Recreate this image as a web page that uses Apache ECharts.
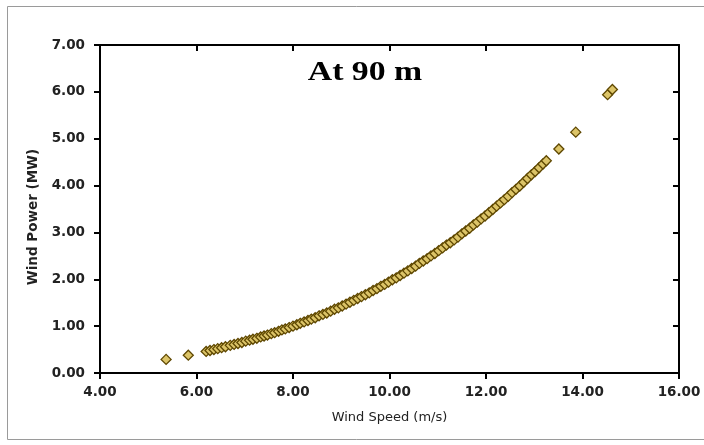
<!DOCTYPE html>
<html>
<head>
<meta charset="utf-8">
<script src="https://cdn.jsdelivr.net/npm/echarts@6/dist/echarts.min.js"></script>
<style>html,body{margin:0;padding:0;background:#fff}#c{width:704px;height:445px}</style>
</head>
<body>
<div id="c"></div>
<script>
const titleText = 'At 90 m';
const xAxisName = 'Wind Speed (m/s)';
const yAxisName = 'Wind Power (MW)';
const windSpeed = [5.37, 5.83,
  6.20, 6.28, 6.36, 6.44, 6.52, 6.60, 6.70, 6.78, 6.86, 6.94, 7.02, 7.10, 7.17, 7.25, 7.33, 7.40,
  7.47, 7.55, 7.62, 7.70, 7.77, 7.84, 7.92, 8.00, 8.08, 8.15, 8.23, 8.31, 8.38, 8.46, 8.54, 8.62,
  8.70, 8.78, 8.86, 8.94, 9.02, 9.10, 9.18, 9.26, 9.34, 9.42, 9.50, 9.58, 9.66, 9.74, 9.82, 9.90,
  9.98, 10.06, 10.14, 10.22, 10.30, 10.38, 10.46, 10.54, 10.62, 10.70, 10.78, 10.86, 10.94, 11.02,
  11.10, 11.18, 11.26, 11.34, 11.42, 11.50, 11.58, 11.66, 11.74, 11.82, 11.90, 11.98, 12.06, 12.14,
  12.22, 12.30, 12.38, 12.46, 12.54, 12.62, 12.70, 12.78, 12.86, 12.94, 13.02, 13.10, 13.18, 13.25,
  13.51, 13.86, 14.52, 14.62];
const windPower = [0.29, 0.38,
  0.46, 0.48, 0.50, 0.52, 0.54, 0.56, 0.59, 0.61, 0.63, 0.65, 0.68, 0.70, 0.72, 0.74, 0.77, 0.79,
  0.81, 0.84, 0.86, 0.89, 0.92, 0.94, 0.97, 1.00, 1.03, 1.06, 1.09, 1.12, 1.15, 1.18, 1.22, 1.25,
  1.28, 1.32, 1.36, 1.39, 1.43, 1.47, 1.51, 1.55, 1.59, 1.63, 1.67, 1.71, 1.76, 1.80, 1.85, 1.89,
  1.94, 1.99, 2.03, 2.08, 2.13, 2.18, 2.23, 2.28, 2.34, 2.39, 2.44, 2.50, 2.55, 2.61,
  2.67, 2.73, 2.78, 2.84, 2.90, 2.97, 3.03, 3.09, 3.16, 3.22, 3.29, 3.35, 3.42, 3.49,
  3.56, 3.63, 3.70, 3.77, 3.85, 3.92, 3.99, 4.07, 4.15, 4.23, 4.30, 4.38, 4.46, 4.53,
  4.78, 5.14, 5.94, 6.05];
const xTicks = {min: 4, max: 16, interval: 2};
const yTicks = {min: 0, max: 7, interval: 1};

const points = windSpeed.map((v, i) => [v, windPower[i]]);
const chart = echarts.init(document.getElementById('c'), null, {renderer: 'canvas'});
const lbl = {fontFamily: 'DejaVu Sans', fontWeight: 'bold', fontSize: 13.5, color: '#222'};
const axisLine = {show: true, onZero: false, lineStyle: {color: '#000', width: 2}};
chart.setOption({
  animation: false,
  backgroundColor: '#fff',
  graphic: [{
    type: 'rect', shape: {x: 7.5, y: 6.5, width: 700, height: 433},
    style: {fill: 'none', stroke: '#9a9a9a', lineWidth: 1}, silent: true, z: -1
  }, {
    type: 'text', x: 365, y: 73, scaleX: 1.25, silent: true, z: 10,
    style: {text: titleText, font: 'bold 27px "Liberation Serif"', fill: '#000',
            textAlign: 'center', textVerticalAlign: 'middle'}
  }],
  grid: {left: 100, right: 25, top: 45, bottom: 72, containLabel: false},
  xAxis: [{
    type: 'value', position: 'bottom', min: xTicks.min, max: xTicks.max, interval: xTicks.interval,
    axisLine: axisLine, axisTick: {show: true, inside: false, length: 6, lineStyle: {color: '#000', width: 2}},
    splitLine: {show: false},
    axisLabel: Object.assign({margin: 12, formatter: v => v.toFixed(2)}, lbl),
    name: xAxisName, nameLocation: 'middle', nameGap: 38,
    nameTextStyle: {fontFamily: 'DejaVu Sans', fontSize: 13, color: '#222', fontWeight: 'normal'}
  }, {
    type: 'value', position: 'top', min: xTicks.min, max: xTicks.max, interval: xTicks.interval,
    axisLine: axisLine, axisTick: {show: true, inside: true, length: 6, lineStyle: {color: '#000', width: 2}},
    splitLine: {show: false}, axisLabel: {show: false}
  }],
  yAxis: [{
    type: 'value', position: 'left', min: yTicks.min, max: yTicks.max, interval: yTicks.interval,
    axisLine: axisLine, axisTick: {show: true, inside: false, length: 6, lineStyle: {color: '#000', width: 2}},
    splitLine: {show: false},
    axisLabel: Object.assign({margin: 15, formatter: v => v.toFixed(2)}, lbl),
    name: yAxisName, nameLocation: 'middle', nameGap: 60, nameRotate: 90,
    nameTextStyle: {fontFamily: 'DejaVu Sans', fontSize: 13.5, color: '#222', fontWeight: 'bold',
                    padding: [0, 16, 0, 0]}
  }, {
    type: 'value', position: 'right', min: yTicks.min, max: yTicks.max, interval: yTicks.interval,
    axisLine: axisLine, axisTick: {show: true, inside: true, length: 6, lineStyle: {color: '#000', width: 2}},
    splitLine: {show: false}, axisLabel: {show: false}
  }],
  series: [{
    type: 'scatter', xAxisIndex: 0, yAxisIndex: 0, data: points,
    symbol: 'diamond', symbolSize: 10,
    itemStyle: {color: '#dcc468', borderColor: '#5e4700', borderWidth: 1.3, opacity: 1}
  }]
});
</script>
</body>
</html>
